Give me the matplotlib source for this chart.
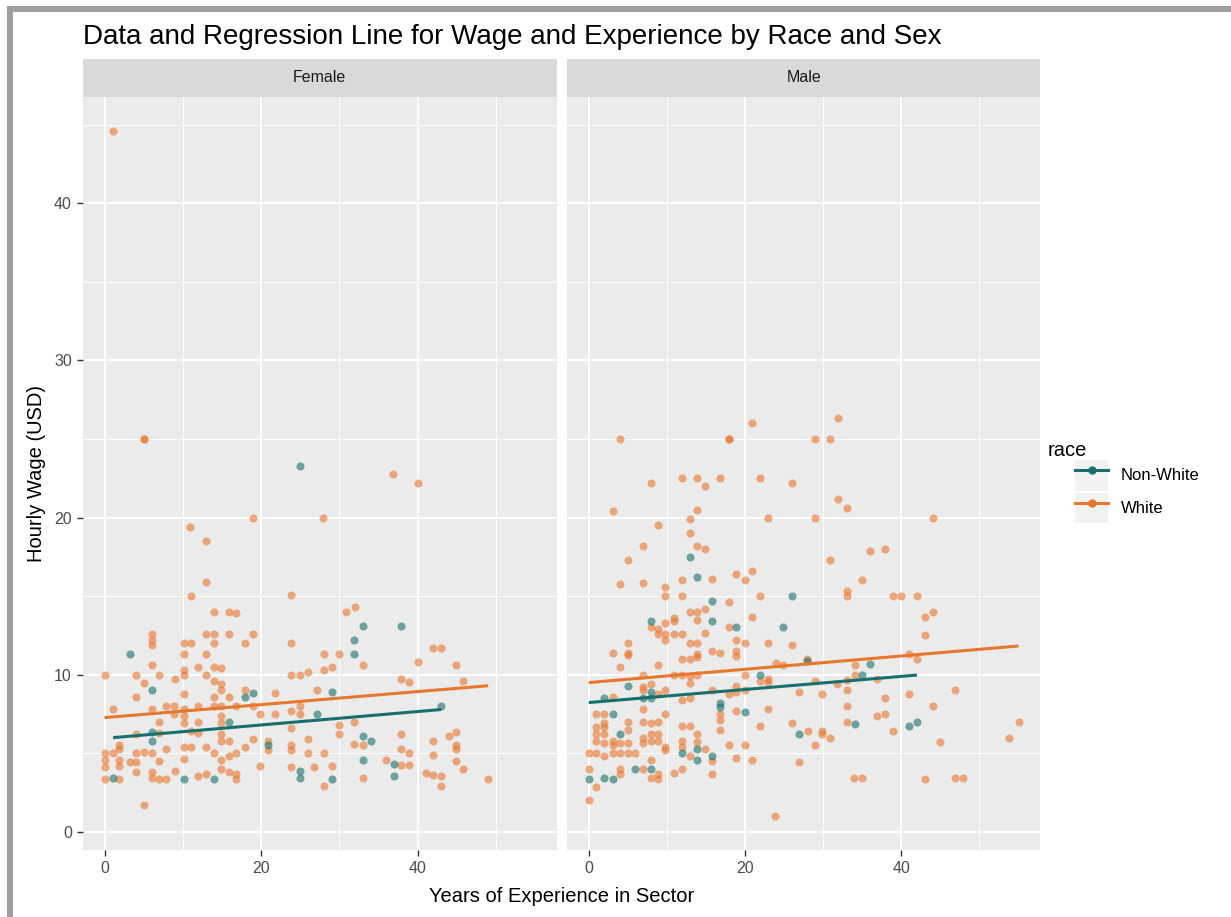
import numpy as np
import matplotlib
matplotlib.use('Agg')
import matplotlib.pyplot as plt
from matplotlib.lines import Line2D
from matplotlib.patches import Rectangle

plt.rcParams['font.family'] = ['Liberation Sans', 'DejaVu Sans']

# --- data: (experience, hourly wage) ---
female_white = [
    (1.1, 44.6), (5, 25), (5, 25), (36.8, 22.8), (40, 22.2), (18.9, 20), (27.9, 20), (10.9, 19.4), (12.9, 18.5),
    (12.9, 15.9), (11, 15), (23.8, 15.1), (14, 14), (15.9, 14), (16.8, 13.9),
    (6, 12.6), (6, 12.2), (6, 11.9), (12.9, 12.6), (14, 12.6), (15.9, 12.6), (18.9, 12.6),
    (10.1, 12), (11, 12), (14, 12), (18, 12), (23.8, 12), (10.1, 11.3), (12.9, 11.3),
    (6, 10.6), (10.1, 10.3), (12, 10.5), (14, 10.5), (14.9, 10.4),
    (0, 10), (4, 10), (7, 10), (9, 9.7), (10.1, 10), (12.9, 10), (23.8, 10), (25, 10), (26, 10.2),
    (5.1, 9.5), (14, 9.6), (14.9, 9.4), (14.9, 9.0), (4, 8.6), (10.1, 8.75), (14, 8.6), (15.9, 8.6), (18, 9.0), (21.8, 8.85),
    (1.1, 7.8), (6, 7.8), (7.8, 8.0), (8.9, 8.0), (10.1, 7.8), (12, 8.0), (14, 8.0), (14.9, 8.0), (16.8, 8.0),
    (18.9, 8.0), (23.8, 7.7), (25, 8.0),
    (8.9, 7.5), (10.1, 7.4), (14.9, 7.4), (21.8, 7.5), (19.9, 7.5),
    (7, 7.0), (10.1, 6.9), (12, 7.0), (14.9, 6.9), (23.8, 6.6), (25, 7.5),
    (7, 6.3), (4, 6.2), (11, 6.4), (12, 6.3), (14.9, 5.8), (15.9, 5.8), (14.9, 6.2), (18.9, 5.9), (20.9, 5.8),
    (20.9, 5.2), (23.8, 5.5), (23.8, 5.2), (26, 5.9),
    (1.9, 5.5), (1.9, 5.3), (0, 5), (1.1, 5), (4, 5), (5.1, 5.1), (6, 5), (7.9, 5.3), (10.1, 5.4), (11, 5.4),
    (12.9, 5.4), (14, 5), (15.9, 4.8), (16.8, 5), (18, 5.4), (26, 5),
    (0, 4.55), (1.9, 4.55), (3.2, 4.45), (4, 4.45), (7, 4.5), (10.1, 4.65), (14.9, 4.55), (0, 4.1), (1.9, 4.2),
    (4, 3.8), (6, 3.8), (9, 3.9), (14.9, 4.0), (15.9, 3.8), (16.8, 3.7), (19.9, 4.2), (23.8, 4.1), (26.8, 4.1),
    (0, 3.35), (1.9, 3.35), (6, 3.4), (7, 3.35), (7.9, 3.35), (12, 3.55), (12.9, 3.7), (16.8, 3.35), (5.1, 1.7),
    (30.9, 14), (32, 14.3), (28, 11.3), (30, 11.3), (28, 10.3), (29, 10.5), (33, 10.6), (41.9, 11.7), (43, 11.7),
    (40, 10.8), (44.9, 10.6), (37.9, 9.7), (38.9, 9.55), (45.8, 9.6), (27.1, 9.0),
    (30, 6.8), (30, 6.25), (31.9, 7.0), (31.9, 5.6), (33, 5.5), (37.9, 6.25), (41.9, 5.8), (44, 6.1), (44.9, 6.35),
    (44.9, 5.5), (44.9, 5.3), (28, 5.0), (37.9, 5.3), (38.9, 5.0), (41.9, 4.9), (36, 4.6), (37.9, 4.25), (38.9, 4.25),
    (29, 4.2), (44.9, 4.5), (45.8, 4.0), (33, 3.45), (41, 3.75), (41.9, 3.65), (43, 3.55), (28, 2.95), (43, 2.95),
    (49, 3.35),
]
female_nonwhite = [
    (25, 23.3), (3.2, 11.3), (6, 9.0), (18, 8.6), (18.9, 8.85), (15.9, 7.0), (6, 6.35), (6, 5.8), (20.9, 5.5),
    (25, 3.9), (1.1, 3.45), (10.1, 3.35), (14, 3.35), (25, 3.45),
    (33, 13.1), (37.9, 13.1), (31.9, 12.2), (31.9, 11.3), (29, 8.9), (43, 8.0), (27.1, 7.5), (33, 6.1), (34, 5.8),
    (33, 4.55), (37, 4.35), (29, 3.35), (37, 3.55),
]
male_white = [
    (20.9, 26.0), (4, 25), (18, 25), (18, 25), (7.9, 22.2), (11.9, 22.5), (13.9, 22.5), (16.8, 22.5), (14.9, 22.0),
    (21.9, 22.5), (26, 22.2), (3.1, 20.4), (13.9, 20.5), (12.9, 19.9), (22.9, 20), (8.9, 19.5), (12.9, 19.0),
    (6.9, 18.2), (13.9, 18.2), (14.9, 18.0), (5, 17.3),
    (31.9, 26.3), (29, 25), (30.9, 25), (31.9, 21.2), (33.1, 20.6), (29, 20), (44, 20), (36, 17.9), (37.9, 18.0),
    (30.9, 17.3),
    (4, 15.76), (6.9, 15.85), (9.8, 15.55), (9.8, 15), (11.9, 16), (11.9, 15), (15.8, 16.1), (18.9, 16.4), (20, 16),
    (20.9, 16.6), (21.9, 15), (18, 14.6), (12.9, 14), (13.9, 14), (14.9, 14.15), (13.9, 13.5), (20.9, 13.7),
    (7.9, 13.05), (8.8, 12.9), (9.8, 13.3), (10.9, 13.4), (10.9, 13.6),
    (9.8, 12.6), (9.8, 12.2), (10.9, 12.6), (11.9, 12.6), (8.8, 12.6), (18, 13.05), (14.9, 12.65),
    (18.9, 12.2), (20, 12), (22.9, 12), (26, 11.9), (5, 12), (5, 11.35), (5, 11.25), (3.1, 11.4), (12.9, 12),
    (13.9, 12), (15.8, 11.5), (16.8, 11.4), (18.9, 11.5), (18.9, 11.2),
    (4, 10.5), (8.8, 10.6), (11.9, 11.0), (12.9, 11.0), (13.9, 11.1), (13.9, 11.3), (23.9, 10.75), (24.8, 10.6),
    (6.9, 10), (10.9, 10), (11.9, 10), (12.9, 9.95), (13.9, 10), (20, 10), (22.9, 9.75), (21.9, 9.6), (22.9, 9.55),
    (12.9, 9.45), (6.9, 9.2), (7.9, 9.4), (6.9, 9.0), (9.8, 9.0), (8.8, 8.8), (3.1, 8.6), (11.9, 8.4), (12.9, 8.5),
    (15.8, 9.05), (18, 8.8), (18.9, 8.9), (18.9, 9.3), (20, 9.05), (26.9, 8.9),
    (16.8, 7.5), (16.8, 7.1), (16.8, 6.5), (18.9, 7.7), (22.9, 7.8), (6.9, 7.8), (0.9, 7.5), (1.9, 7.5), (9.8, 7.5),
    (6.9, 7.0), (7.9, 6.9), (8.8, 7.0), (1.9, 6.95), (1.9, 6.7), (0.9, 6.7), (0.9, 6.25), (1.9, 6.25), (5, 7.0),
    (5, 6.5), (11.9, 6.75), (12.9, 6.75), (13.9, 6.2), (13.9, 5.7), (21.9, 6.75), (26, 6.9),
    (6.9, 6.0), (7.9, 6.25), (8.8, 6.25), (7.9, 5.8), (8.8, 5.8), (6.9, 5.65),
    (0.9, 5.8), (1.9, 5.65), (3.1, 5.8), (3.1, 5.5), (4, 5.65), (5, 5.65), (9.8, 5.4), (9.8, 5.2), (11.9, 5.8),
    (11.9, 5.4), (14.9, 5.3),
    (0, 5.0), (0.9, 5.0), (1.9, 4.8), (3.1, 5.0), (4, 5.0), (5, 5.0), (5.9, 5.0), (12.9, 4.8), (18, 5.5), (20, 5.5),
    (15.8, 4.5), (18.9, 4.7), (20.9, 4.55), (26.9, 4.45), (7.9, 4.55),
    (0, 4.0), (4, 4.0), (4, 3.7), (6.9, 4.0), (7.9, 3.4), (8.8, 3.7), (8.8, 3.35), (10.9, 3.75), (11.9, 4.0),
    (15.8, 3.7), (0.9, 2.85), (0, 2.0), (23.8, 1.0),
    (35, 16), (33.1, 15.3), (33.1, 15), (38.9, 15), (39.9, 15), (42, 15), (43, 13.7), (44, 14), (43, 12.55),
    (27.9, 11.0), (34.1, 10.6), (34.1, 10), (41, 11.3), (42, 11.0), (29, 9.6), (31.8, 9.4), (33.1, 9.65),
    (36.9, 9.7), (29.9, 8.75), (33.1, 9.0), (33.1, 8.0), (37.9, 8.5), (41, 8.75), (44, 8.0), (46.9, 9.0),
    (33.1, 7.0), (36.9, 7.4), (37.9, 7.5), (38.9, 6.45), (28, 6.45), (29.9, 6.45), (29.9, 6.25), (29, 5.5),
    (30.9, 6.0), (44.9, 5.75), (55, 7.0), (53.8, 5.95), (34, 3.43), (35, 3.43), (43, 3.35), (46.9, 3.43),
    (47.9, 3.43),
]
male_nonwhite = [
    (12.9, 17.5), (13.9, 16.2), (26, 15), (15.8, 14.7), (7.9, 13.4), (15.8, 13.4), (18.9, 13.05), (24.8, 13.05),
    (21.9, 10), (5, 9.3), (7.9, 8.9), (7.9, 8.55), (6.9, 8.5), (1.9, 8.55), (16.8, 8.2), (16.8, 7.95), (20, 7.6),
    (3.1, 7.5), (4, 6.25), (26.9, 6.25), (11.9, 5.0), (13.9, 5.25), (13.9, 4.55), (15.8, 4.8), (5.9, 4.0),
    (7.9, 4.0), (0, 3.35), (1.9, 3.45), (3.1, 3.35),
    (27.9, 10.85), (36, 10.7), (35, 10), (34.1, 6.85), (41, 6.75), (42, 7.0),
]

# regression lines: intercept, slope
fit_intercept = {('Female', 'White'): 7.27, ('Female', 'Non-White'): 5.95,
                 ('Male', 'White'): 9.5, ('Male', 'Non-White'): 8.23}
fit_slope = {('Female', 'White'): 0.0414, ('Female', 'Non-White'): 0.0427,
             ('Male', 'White'): 0.0423, ('Male', 'Non-White'): 0.0416}

panels = {'Female': {'Non-White': female_nonwhite, 'White': female_white},
          'Male': {'Non-White': male_nonwhite, 'White': male_white}}
colors = {'Non-White': '#17706C', 'White': '#E8772E'}

W, H = 1231, 917
fig = plt.figure(figsize=(W / 100, H / 100), dpi=100)
fig.patch.set_facecolor('white')


def px_axes(l, t, r, b):
    return fig.add_axes([l / W, 1 - b / H, (r - l) / W, (b - t) / H])


# grey frame of the screenshot
fig.add_artist(Rectangle((7 / W, 0), 6 / W, 1 - 6 / H, transform=fig.transFigure, color='#9E9E9E', lw=0))
fig.add_artist(Rectangle((7 / W, 1 - 12 / H), 1, 6 / H, transform=fig.transFigure, color='#9E9E9E', lw=0))

layout = {'Female': (83, 556.7), 'Male': (567.3, 1040)}
for name, (l, r) in layout.items():
    ax = px_axes(l, 97, r, 850)
    ax.set_facecolor('#EBEBEB')
    for s in ax.spines.values():
        s.set_visible(False)
    ax.set_xlim(-2.75, 57.75)
    ax.set_ylim(-1.15, 46.75)
    ax.set_xticks([0, 20, 40])
    ax.set_xticks([10, 30, 50], minor=True)
    ax.set_yticks([0, 10, 20, 30, 40])
    ax.set_yticks([5, 15, 25, 35, 45], minor=True)
    ax.grid(True, which='major', color='white', lw=1.3)
    ax.grid(True, which='minor', color='white', lw=0.65)
    ax.set_axisbelow(True)
    ax.tick_params(which='major', length=4, width=1, color='#333333', labelcolor='#4D4D4D',
                   labelsize=11.5, pad=4)
    ax.tick_params(which='minor', length=0)
    if name == 'Male':
        ax.tick_params(axis='y', which='major', length=0, labelleft=False)

    for race in ['White', 'Non-White']:
        pts = np.array(panels[name][race])
        ax.scatter(pts[:, 0], pts[:, 1], s=34, color=colors[race], alpha=0.6, linewidths=0, zorder=2)
    for race in ['Non-White', 'White']:
        pts = np.array(panels[name][race])
        xs = np.linspace(pts[:, 0].min(), pts[:, 0].max(), 50)
        ys = fit_intercept[(name, race)] + fit_slope[(name, race)] * xs
        ax.plot(xs, ys, color=colors[race], lw=2.2, zorder=3, solid_capstyle='butt')

    strip = px_axes(l, 59, r, 97)
    strip.set_facecolor('#D9D9D9')
    strip.set_xticks([])
    strip.set_yticks([])
    for s in strip.spines.values():
        s.set_visible(False)
    strip.text(0.5, 0.5, name, ha='center', va='center', fontsize=11.5, color='#1A1A1A',
               transform=strip.transAxes)

fig.text(83 / W, 1 - 37 / H, 'Data and Regression Line for Wage and Experience by Race and Sex',
         ha='left', va='center', fontsize=20, color='black')
fig.text(561.5 / W, 1 - 896 / H, 'Years of Experience in Sector', ha='center', va='center',
         fontsize=14.5, color='black')
fig.text(37 / W, 1 - 473 / H, 'Hourly Wage (USD)', ha='center', va='center', rotation=90,
         fontsize=14.5, color='black')

# legend
fig.text(1048 / W, 1 - 450 / H, 'race', ha='left', va='center', fontsize=14.5, color='black')
handles = [(Rectangle((0, 0), 1, 1, fc='#F2F2F2', ec='none'),
            Line2D([], [], color=colors[r], lw=2.2, marker='o', markersize=5)) for r in ['Non-White', 'White']]
leg = fig.legend(handles, ['Non-White', 'White'], loc='upper left',
                 bbox_to_anchor=(1075 / W, 1 - 460 / H), frameon=False, fontsize=12,
                 handlelength=2.0, handleheight=2.45, labelspacing=0.13,
                 handletextpad=0.75, borderaxespad=0, borderpad=0)

fig.savefig('out.png', dpi=100)
